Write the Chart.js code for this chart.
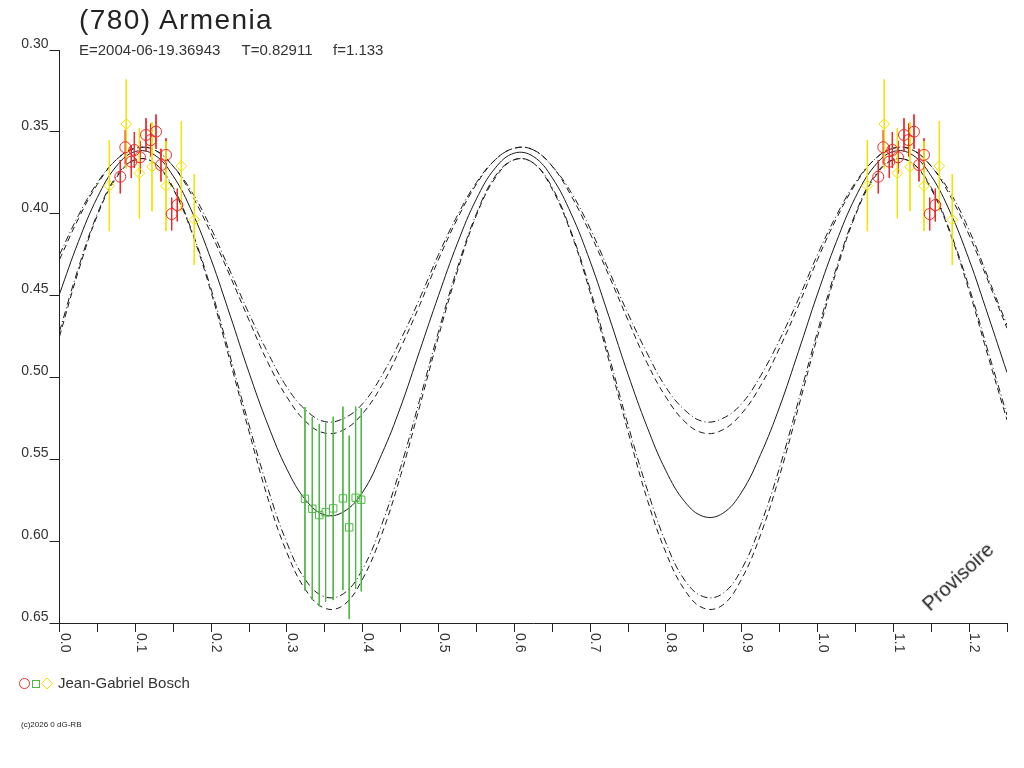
<!DOCTYPE html>
<html><head><meta charset="utf-8">
<script src="https://cdn.jsdelivr.net/npm/chart.js@4.4.1/dist/chart.umd.min.js"></script>
<style>
html,body{margin:0;padding:0;background:#fff;}
#wrap{position:relative;width:1024px;height:768px;overflow:hidden;font-family:"Liberation Sans",Arial,sans-serif;color:#222;}
canvas{position:absolute;left:0;top:0;}
.t{position:absolute;white-space:nowrap;line-height:1;}
</style></head>
<body>
<div id="wrap">
<canvas id="c" width="1024" height="768"></canvas>
<div class="t" style="left:79px;top:6px;font-size:28px;letter-spacing:1.4px;color:#222;">(780) Armenia</div>
<div class="t" style="left:79px;top:41.5px;font-size:15px;color:#333;">E=2004-06-19.36943</div>
<div class="t" style="left:241.5px;top:41.5px;font-size:15px;color:#333;">T=0.82911</div>
<div class="t" style="left:333px;top:41.5px;font-size:15px;color:#333;">f=1.133</div>
<svg style="position:absolute;left:18px;top:677px" width="36" height="14">
  <circle cx="6.5" cy="6.5" r="5" fill="none" stroke="#ec2a2a" stroke-width="1"/>
  <rect x="14.5" y="3.5" width="7" height="7" fill="none" stroke="#4fb845" stroke-width="1"/>
  <polygon points="29,1 34.5,6.5 29,12 23.5,6.5" fill="none" stroke="#f2e300" stroke-width="1"/>
</svg>
<div class="t" style="left:58px;top:675px;font-size:15px;color:#333;">Jean-Gabriel Bosch</div>
<div class="t" style="left:21px;top:721px;font-size:8px;color:#222;">(c)2026 0 dG-RB</div>
<div class="t" style="left:930px;top:594.6px;font-size:20px;color:#222;transform-origin:0 16.9px;transform:rotate(-43deg);">Provisoire</div>
</div>
<script>
// ---- data ----
const PHASE = [0,0.025,0.05,0.075,0.1,0.125,0.15,0.175,0.2,0.225,0.25,0.275,0.3,0.325,0.35,0.375,0.4,0.425,0.45,0.475,
  0.5,0.525,0.55,0.575,0.6,0.625,0.65,0.675,0.7,0.725,0.75,0.775,0.8,0.825,0.85,0.875,0.9,0.925,0.95,0.975,
  1.0,1.025,1.05,1.075,1.1,1.125,1.15,1.175,1.2,1.225,1.25];
const FIT_SOLID = [0.449,0.417,0.390,0.371,0.362,0.364,0.377,0.399,0.428,0.462,0.497,0.529,0.556,0.575,0.584,0.582,0.570,0.547,0.518,0.484,
  0.450,0.418,0.391,0.372,0.363,0.365,0.378,0.400,0.429,0.463,0.498,0.530,0.557,0.576,0.585,0.583,0.570,0.547,0.518,0.484,
  0.449,0.417,0.390,0.371,0.362,0.364,0.377,0.399,0.428,0.462,0.497];
const FIT_UP_DASHDOT = [0.425,0.401,0.381,0.367,0.360,0.361,0.371,0.387,0.409,0.435,0.461,0.485,0.506,0.520,0.527,0.525,0.516,0.499,0.477,0.452,
  0.425,0.401,0.381,0.367,0.360,0.361,0.371,0.387,0.409,0.435,0.461,0.485,0.506,0.520,0.527,0.525,0.516,0.499,0.477,0.452,
  0.425,0.401,0.381,0.367,0.360,0.361,0.371,0.387,0.410,0.439,0.468];
const FIT_UP_DASH = [0.428,0.403,0.382,0.367,0.360,0.361,0.371,0.389,0.412,0.438,0.465,0.491,0.512,0.527,0.534,0.532,0.522,0.505,0.482,0.456,
  0.428,0.403,0.382,0.367,0.360,0.361,0.371,0.389,0.412,0.438,0.465,0.491,0.512,0.527,0.534,0.532,0.522,0.505,0.482,0.456,
  0.428,0.403,0.382,0.367,0.360,0.361,0.371,0.389,0.413,0.441,0.470];
const FIT_LO_DASHDOT = [0.472,0.433,0.400,0.377,0.367,0.369,0.384,0.411,0.446,0.487,0.529,0.568,0.601,0.624,0.634,0.632,0.617,0.590,0.555,0.514,
  0.472,0.433,0.400,0.377,0.367,0.369,0.384,0.411,0.446,0.487,0.529,0.568,0.601,0.624,0.634,0.632,0.617,0.590,0.555,0.514,
  0.472,0.433,0.400,0.377,0.367,0.369,0.384,0.411,0.445,0.484,0.523];
const FIT_LO_DASH = [0.475,0.435,0.401,0.378,0.367,0.369,0.385,0.412,0.448,0.490,0.533,0.574,0.607,0.630,0.641,0.639,0.623,0.596,0.560,0.518,
  0.475,0.435,0.401,0.378,0.367,0.369,0.385,0.412,0.448,0.490,0.533,0.574,0.607,0.630,0.641,0.639,0.623,0.596,0.560,0.518,
  0.475,0.435,0.401,0.378,0.367,0.369,0.385,0.412,0.447,0.487,0.526];

const RED_PHASE = [0.0802,0.0868,0.0987,0.0947,0.1062,0.1141,0.1273,0.1203,0.1339,0.1405,0.1480,0.1554];
const RED_MAG   = [0.3774,0.3594,0.3611,0.3682,0.3655,0.3519,0.3499,0.3550,0.3703,0.3641,0.4002,0.3947];
const RED_ERR   = [0.0102,0.0105,0.0110,0.0100,0.0100,0.0102,0.0105,0.0100,0.0100,0.0102,0.0100,0.0100];

const YEL_PHASE = [0.0657,0.0881,0.1053,0.1220,0.1405,0.1607,0.1778];
const YEL_MAG   = [0.3829,0.3452,0.3753,0.3713,0.3831,0.3709,0.4036];
const YEL_ERR   = [0.0278,0.0272,0.0275,0.0272,0.0275,0.0275,0.0277];

const GRN_PHASE = [0.3238,0.3335,0.3427,0.3511,0.3611,0.3739,0.3822,0.3907,0.3981];
const GRN_MAG   = [0.5741,0.5802,0.5841,0.5824,0.5800,0.5739,0.5916,0.5735,0.5747];
const GRN_ERR   = [0.0560,0.0558,0.0557,0.0547,0.0560,0.0560,0.0560,0.0557,0.0560];

const XTICK_VALUES = [0,0.1,0.2,0.3,0.4,0.5,0.6,0.7,0.8,0.9,1.0,1.1,1.2];
const XTICK_LABELS = ['0.0','0.1','0.2','0.3','0.4','0.5','0.6','0.7','0.8','0.9','1.0','1.1','1.2'];
const X_MIN = 0, X_MAX = 1.25, Y_MIN = 0.30, Y_MAX = 0.65;

// ---- build ----
const FONT = '"Liberation Sans", Arial, sans-serif';
Chart.defaults.font.family = FONT;

function curve(arr){ return PHASE.map((p,i)=>({x:p,y:arr[i]})); }
function pts(ph, mg){
  const out = [];
  ph.forEach((p,i)=>{
    out.push({x:p,y:mg[i]});
    if (p+1 <= X_MAX) out.push({x:p+1,y:mg[i]});
  });
  return out;
}
function bars(ph, mg, er){
  const out = [];
  ph.forEach((p,i)=>{
    [p, p+1].forEach(q=>{
      if (q > X_MAX) return;
      out.push({x:q,y:mg[i]-er[i]});
      out.push({x:q,y:mg[i]+er[i]});
      out.push({x:q,y:null});
    });
  });
  return out;
}
const RED='#ec2a2a', GRN='#4fb845', YEL='#f2e300', INK='#1a1a1a';

function lineDS(arr, dash){
  return {type:'scatter', data:curve(arr), showLine:true, pointRadius:0, borderColor:INK,
    borderWidth:1, borderDash:dash, tension:0.4, fill:false, order:5};
}
function barDS(ph,mg,er,col){
  return {type:'scatter', data:bars(ph,mg,er), showLine:true, spanGaps:false, pointRadius:0,
    borderColor:col, borderWidth:1, tension:0, fill:false, order:3};
}
function ptDS(ph,mg,col,style,r){
  return {type:'scatter', data:pts(ph,mg), showLine:false, pointStyle:style, pointRadius:r,
    pointBorderColor:col, pointBackgroundColor:'rgba(0,0,0,0)', pointBorderWidth:1, order:1};
}

const xLabelPlugin = {
  id:'xlabels',
  afterDraw(chart){
    const ctx = chart.ctx, x = chart.scales.x;
    ctx.save();
    ctx.font = '14px ' + FONT;
    ctx.fillStyle = '#333';
    ctx.textAlign = 'left';
    ctx.textBaseline = 'alphabetic';
    XTICK_VALUES.forEach((v,i)=>{
      const px = x.getPixelForValue(v);
      ctx.save();
      ctx.translate(px + 1.2, x.top + 10);
      ctx.rotate(Math.PI/2);
      ctx.fillText(XTICK_LABELS[i], 0, 0);
      ctx.restore();
    });
    ctx.restore();
  }
};

new Chart(document.getElementById('c'), {
  type:'scatter',
  data:{datasets:[
    ptDS(RED_PHASE,RED_MAG,RED,'circle',5.5),
    ptDS(GRN_PHASE,GRN_MAG,GRN,'rect',5.2),
    ptDS(YEL_PHASE,YEL_MAG,YEL,'rectRot',5.3),
    barDS(YEL_PHASE,YEL_MAG,YEL_ERR,YEL),
    barDS(GRN_PHASE,GRN_MAG,GRN_ERR,GRN),
    barDS(RED_PHASE,RED_MAG,RED_ERR,RED),
    lineDS(FIT_SOLID,[]),
    lineDS(FIT_UP_DASHDOT,[7,3,1,3]),
    lineDS(FIT_UP_DASH,[6,4]),
    lineDS(FIT_LO_DASHDOT,[7,3,1,3]),
    lineDS(FIT_LO_DASH,[6,4])
  ]},
  options:{
    responsive:false, animation:false, devicePixelRatio:1,
    layout:{padding:{left:0,right:17,top:50,bottom:0}},
    plugins:{legend:{display:false}, tooltip:{enabled:false}, title:{display:false}},
    scales:{
      x:{type:'linear', min:X_MIN, max:X_MAX,
        ticks:{stepSize:0.05, autoSkip:false, maxRotation:0, color:'rgba(0,0,0,0)', font:{size:10}},
        grid:{drawOnChartArea:false, drawTicks:true, tickLength:9, color:'#222', lineWidth:1},
        border:{display:true, color:'#222', width:1},
        afterFit(s){ s.height = 145; }
      },
      y:{type:'linear', reverse:true, min:Y_MIN, max:Y_MAX,
        ticks:{stepSize:0.05, padding:1, labelOffset:-6, color:'#333', font:{size:14},
          callback:(v)=>Number(v).toFixed(2)},
        grid:{drawOnChartArea:false, drawTicks:true, tickLength:10, color:'#222', lineWidth:1},
        border:{display:true, color:'#222', width:1},
        afterFit(s){ s.width = 59.5; }
      }
    }
  },
  plugins:[xLabelPlugin]
});
</script>
</body></html>
